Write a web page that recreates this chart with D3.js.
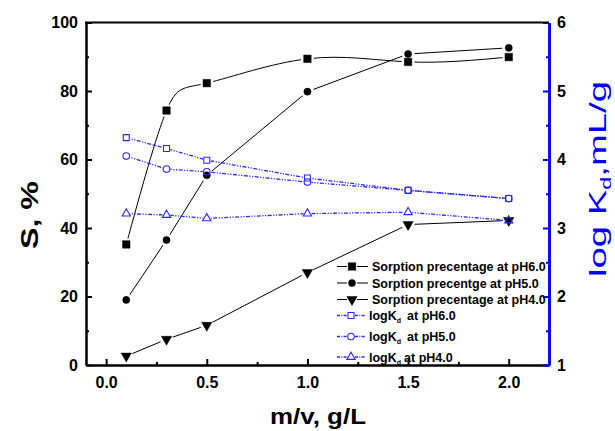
<!DOCTYPE html>
<html>
<head>
<meta charset="utf-8">
<script src="https://cdn.jsdelivr.net/npm/d3@7"></script>
<style>
  body { margin: 0; background: #fff; }
  text { font-family: Arial, "Liberation Sans", sans-serif; }
</style>
</head>
<body>
<div id="chart"></div>
<script>
// m/v, g/L
var mv = [0.1, 0.3, 0.5, 1.0, 1.5, 2.0];

// S, % (left axis)
var sorpPH6 = [35.2, 74.3, 82.3, 89.4, 88.5, 89.9];
var sorpPH5 = [19.0, 36.5, 55.4, 79.8, 90.8, 92.6];
var sorpPH4 = [2.6, 7.5, 11.6, 27.0, 41.0, 42.2];

// log Kd (right axis)
var logPH6 = [4.32, 4.16, 3.99, 3.73, 3.55, 3.43];
var logPH5 = [4.05, 3.86, 3.82, 3.67, 3.55, 3.43];
var logPH4 = [3.21, 3.19, 3.14, 3.21, 3.23, 3.11];

var xMajor = [0, 0.5, 1.0, 1.5, 2.0];
var xMinor = [0.25, 0.75, 1.25, 1.75];
var yLMajor = [0, 20, 40, 60, 80, 100];
var yLMinor = [10, 30, 50, 70, 90];
var yRMajor = [1, 2, 3, 4, 5, 6];
var yRMinor = [1.5, 2.5, 3.5, 4.5, 5.5];

var width = 615, height = 431;
var plot = {left: 86, right: 549, top: 22.5, bottom: 365};
var BLUE = "#0000ff", DBLUE = "#2a2aff";

var svg = d3.select("#chart").append("svg")
    .attr("width", width)
    .attr("height", height);

var x = d3.scaleLinear().domain([-0.1, 2.2]).range([plot.left, plot.right]);
var yL = d3.scaleLinear().domain([0, 100]).range([plot.bottom, plot.top]);
var yR = d3.scaleLinear().domain([1, 6]).range([plot.bottom, plot.top]);

var series = [
    {label: "Sorption precentage at pH6.0", values: sorpPH6, y: yL, color: "#000", symbol: d3.symbolSquare, size: 56, filled: true, curve: d3.curveNatural},
    {label: "Sorption precentge at pH5.0", values: sorpPH5, y: yL, color: "#000", symbol: d3.symbolCircle, size: 40, filled: true, curve: d3.curveLinear},
    {label: "Sorption precentage at pH4.0", values: sorpPH4, y: yL, color: "#000", symbol: d3.symbolTriangle, size: 46, filled: true, down: true, curve: d3.curveLinear},
    {label: "at pH6.0", values: logPH6, y: yR, color: DBLUE, symbol: d3.symbolSquare, size: 36, filled: false, curve: d3.curveLinear},
    {label: "at pH5.0", values: logPH5, y: yR, color: DBLUE, symbol: d3.symbolCircle, size: 34, filled: false, curve: d3.curveLinear},
    {label: "at pH4.0", values: logPH4, y: yR, color: DBLUE, symbol: d3.symbolTriangle, size: 30, filled: false, curve: d3.curveLinear}
];

// masks so the lines stop short of the symbols (Origin style)
var defs = svg.append("defs");
series.forEach(function(s, i) {
    var m = defs.append("mask").attr("id", "gap" + i)
        .attr("maskUnits", "userSpaceOnUse")
        .attr("x", 0).attr("y", 0).attr("width", width).attr("height", height);
    m.append("rect").attr("width", width).attr("height", height).attr("fill", "#fff");
    m.selectAll("circle").data(s.values).enter().append("circle")
        .attr("cx", function(d, j) { return x(mv[j]); })
        .attr("cy", function(d) { return s.y(d); })
        .attr("r", s.filled ? 6.5 : 4)
        .attr("fill", "#000");
});

// axes
function drawAxis(axis, tr, color, width) {
    var g = svg.append("g").attr("transform", tr).call(axis);
    g.select(".domain").attr("stroke", color).attr("stroke-width", width);
    g.selectAll(".tick line").attr("stroke", color).attr("stroke-width", 2);
    g.selectAll(".tick text")
        .attr("fill", "#000")
        .style("font-size", "16px")
        .style("font-weight", "bold")
        .style("font-family", "Arial, 'Liberation Sans', sans-serif");
    return g;
}

drawAxis(d3.axisBottom(x).tickValues(xMinor).tickSize(-3).tickSizeOuter(0).tickFormat(""),
    "translate(0," + plot.bottom + ")", "#000", 2);
drawAxis(d3.axisBottom(x).tickValues(xMajor).tickSize(-6).tickSizeOuter(0).tickPadding(12).tickFormat(d3.format(".1f")),
    "translate(0," + plot.bottom + ")", "#000", 2);

drawAxis(d3.axisLeft(yL).tickValues(yLMinor).tickSize(-3).tickSizeOuter(0).tickFormat(""),
    "translate(" + plot.left + ",0)", "#000", 2);
drawAxis(d3.axisLeft(yL).tickValues(yLMajor).tickSize(-6).tickSizeOuter(0).tickPadding(8),
    "translate(" + plot.left + ",0)", "#000", 2);

drawAxis(d3.axisRight(yR).tickValues(yRMinor).tickSize(-3).tickSizeOuter(0).tickFormat(""),
    "translate(" + plot.right + ",0)", BLUE, 2.5);
drawAxis(d3.axisRight(yR).tickValues(yRMajor).tickSize(-6).tickSizeOuter(0).tickPadding(8).tickFormat(d3.format("d")),
    "translate(" + plot.right + ",0)", BLUE, 2.5);

// top frame line
svg.append("line")
    .attr("x1", plot.left - 1).attr("x2", plot.right)
    .attr("y1", plot.top).attr("y2", plot.top)
    .attr("stroke", "#000").attr("stroke-width", 2);

// lines + symbols, log Kd drawn last (on top)
var order = [0, 1, 2, 3, 4, 5];
order.forEach(function(i) {
    var s = series[i];
    var line = d3.line()
        .x(function(d, j) { return x(mv[j]); })
        .y(function(d) { return s.y(d); })
        .curve(s.curve);

    svg.append("path")
        .datum(s.values)
        .attr("d", line)
        .attr("fill", "none")
        .attr("stroke", s.color)
        .attr("stroke-width", s.filled ? 1 : 1.3)
        .attr("stroke-dasharray", s.filled ? null : "4 1.5 1.2 1.5 1.2 1.5")
        .attr("mask", "url(#gap" + i + ")");

    svg.selectAll(null)
        .data(s.values)
        .enter().append("path")
        .attr("d", d3.symbol().type(s.symbol).size(s.size))
        .attr("transform", function(d, j) {
            return "translate(" + x(mv[j]) + "," + s.y(d) + ")" + (s.down ? " rotate(180)" : "");
        })
        .attr("fill", s.filled ? s.color : "none")
        .attr("stroke", s.color)
        .attr("stroke-width", s.filled ? 0.5 : 1.1);
});

// legend
var legY = [266.5, 283, 299.5, 315.5, 336.5, 357];
var leg = svg.append("g");
series.forEach(function(s, i) {
    var cy = legY[i];
    var x0 = 337, x1 = s.filled ? 368 : 366, xm = s.filled ? 352 : 351;
    var gap = s.filled ? 5 : 4;
    [[x0, xm - gap], [xm + gap, x1]].forEach(function(seg) {
        leg.append("line")
            .attr("x1", seg[0]).attr("x2", seg[1])
            .attr("y1", cy).attr("y2", cy)
            .attr("stroke", s.color)
            .attr("stroke-width", s.filled ? 1 : 1.3)
            .attr("stroke-dasharray", s.filled ? null : "3 1.3 1 1.3");
    });
    leg.append("path")
        .attr("d", d3.symbol().type(s.symbol).size(s.size))
        .attr("transform", "translate(" + xm + "," + cy + ")" + (s.down ? " rotate(180)" : ""))
        .attr("fill", s.filled ? s.color : "none")
        .attr("stroke", s.color)
        .attr("stroke-width", s.filled ? 0.5 : 1.1);

    var t = leg.append("text")
        .attr("x", s.filled ? 372 : 369)
        .attr("y", cy + 4.5)
        .style("font-size", "12.5px")
        .style("font-weight", "bold");
    if (s.filled) {
        t.text(s.label);
    } else {
        t.append("tspan").text("logK");
        t.append("tspan").text("d").style("font-size", "7px").attr("dy", 3);
        t.append("tspan").text(s.label).attr("dy", -3).attr("dx", i == 5 ? 3 : 6);
    }
});

// axis titles, stretched to the width seen in the figure
function title(tr, len, build) {
    var g = svg.append("g").attr("transform", tr);
    var t = g.append("text").attr("text-anchor", "middle");
    build(t);
    var w = t.node().getComputedTextLength();
    t.attr("transform", "scale(" + (len / w) + ",1)");
    return t;
}

title("translate(318,424)", 96, function(t) {
    t.style("font-size", "22px").style("font-weight", "bold").text("m/v, g/L");
});

title("translate(38,215) rotate(-90)", 68, function(t) {
    t.style("font-size", "24px").style("font-weight", "bold").text("S, %");
});

title("translate(606,179) rotate(-90)", 196, function(t) {
    t.style("font-size", "23px").attr("fill", BLUE);
    t.append("tspan").text("log K");
    t.append("tspan").text("d").style("font-size", "14px").attr("dy", 5);
    t.append("tspan").text(",mL/g").attr("dy", -5);
});
</script>
</body>
</html>
